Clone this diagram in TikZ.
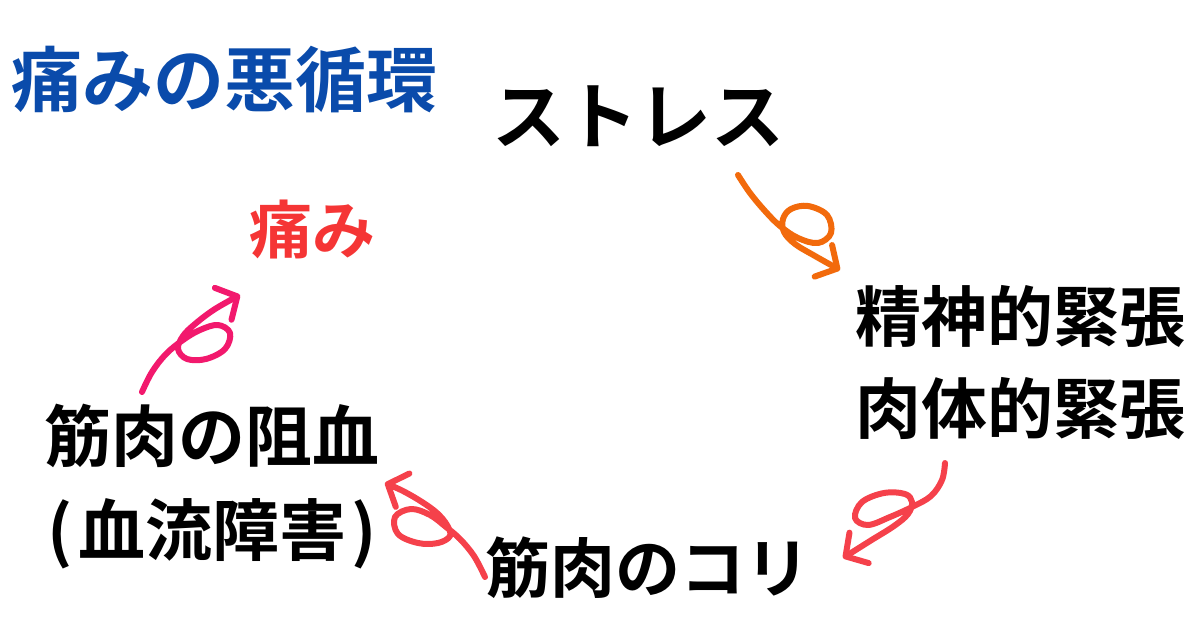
\documentclass[tikz,border=0pt]{standalone}
\usepackage{fontspec}
\usetikzlibrary{positioning,arrows.meta}
\newfontfamily\jpbold{Noto Sans CJK JP Bold}
\definecolor{titleblue}{HTML}{0A4BAB}
\definecolor{painred}{HTML}{F53535}
\definecolor{arroworange}{HTML}{F26A0C}
\definecolor{arrowred}{HTML}{F5414B}
\definecolor{arrowpink}{HTML}{F2196D}

\begin{document}
\begin{tikzpicture}[x=1pt,y=-1pt,
  lbl/.style={inner sep=0pt,font=\jpbold},
  loopy/.style={line width=6pt,line cap=round,line join=round,
    -{Straight Barb[length=16pt,width=36pt,round]}}]
\fill[white] (0,0) rectangle (1200,628);
\useasboundingbox (0,0) rectangle (1200,628);
%
\node[lbl,text=titleblue] (title) at (225,80) {\fontsize{71}{71}\selectfont 痛みの悪循環};
\node[lbl] (stress) at (638,116) {\fontsize{73}{73}\selectfont ストレス};
\node[lbl,text=painred] (itami) at (312,229) {\fontsize{63}{63}\selectfont 痛み};
\node[lbl] (seishin) at (1020,316) {\fontsize{66}{66}\selectfont 精神的緊張};
\node[lbl,below=30pt of seishin] (nikutai) {\fontsize{66}{66}\selectfont 肉体的緊張};
\node[lbl] (kori) at (648,568) {\fontsize{65}{65}\selectfont 筋肉のコリ};
\node[lbl] (soketsu) at (212,436) {\fontsize{67}{67}\selectfont 筋肉の阻血};
\node[lbl,below=30pt of soketsu] (ketsuryu) {\fontsize{67}{67}\selectfont\addfontfeature{CharacterWidth=Proportional}（\kern.08em 血流障害\kern.08em ）};
%
\coordinate (s1) at (738,175);
\coordinate (e1) at (840,270);
\coordinate (s2) at (945,463);
\coordinate (e2) at (843,558);
\coordinate (s3) at (485,577);
\coordinate (e3) at (385,483);
\coordinate (s4) at (142,392);
\coordinate (e4) at (240,295);
%
\draw[loopy,arroworange] plot[smooth,tension=0.6] coordinates {(s1) (750,193) (765,211) (780,226) (798,238) (818,243) (831,233) (827,215) (808,206) (791,209) (783,219) (784,232) (795,244) (815,256) (e1)};
\draw[loopy,arrowred] plot[smooth,tension=0.6] coordinates {(s2) (942,480) (931,496) (912,507) (890,517) (868,525) (855,518) (862,502) (884,493) (905,494) (912,502) (908,514) (894,526) (870,541) (e2)};
\draw[loopy,arrowred] plot[smooth,tension=0.6] coordinates {(s3) (474,556) (460,539) (446,527) (430,515) (411,509) (395,517) (398,534) (418,543) (438,543) (450,536) (447,525) (437,513) (422,502) (403,491) (e3)};
\draw[loopy,arrowpink] plot[smooth,tension=0.6] coordinates {(s4) (152,372) (166,354) (183,340) (200,330) (218,325) (230,333) (225,349) (206,359) (187,359) (178,349) (183,336) (195,324) (215,309) (e4)};
\end{tikzpicture}
\end{document}
